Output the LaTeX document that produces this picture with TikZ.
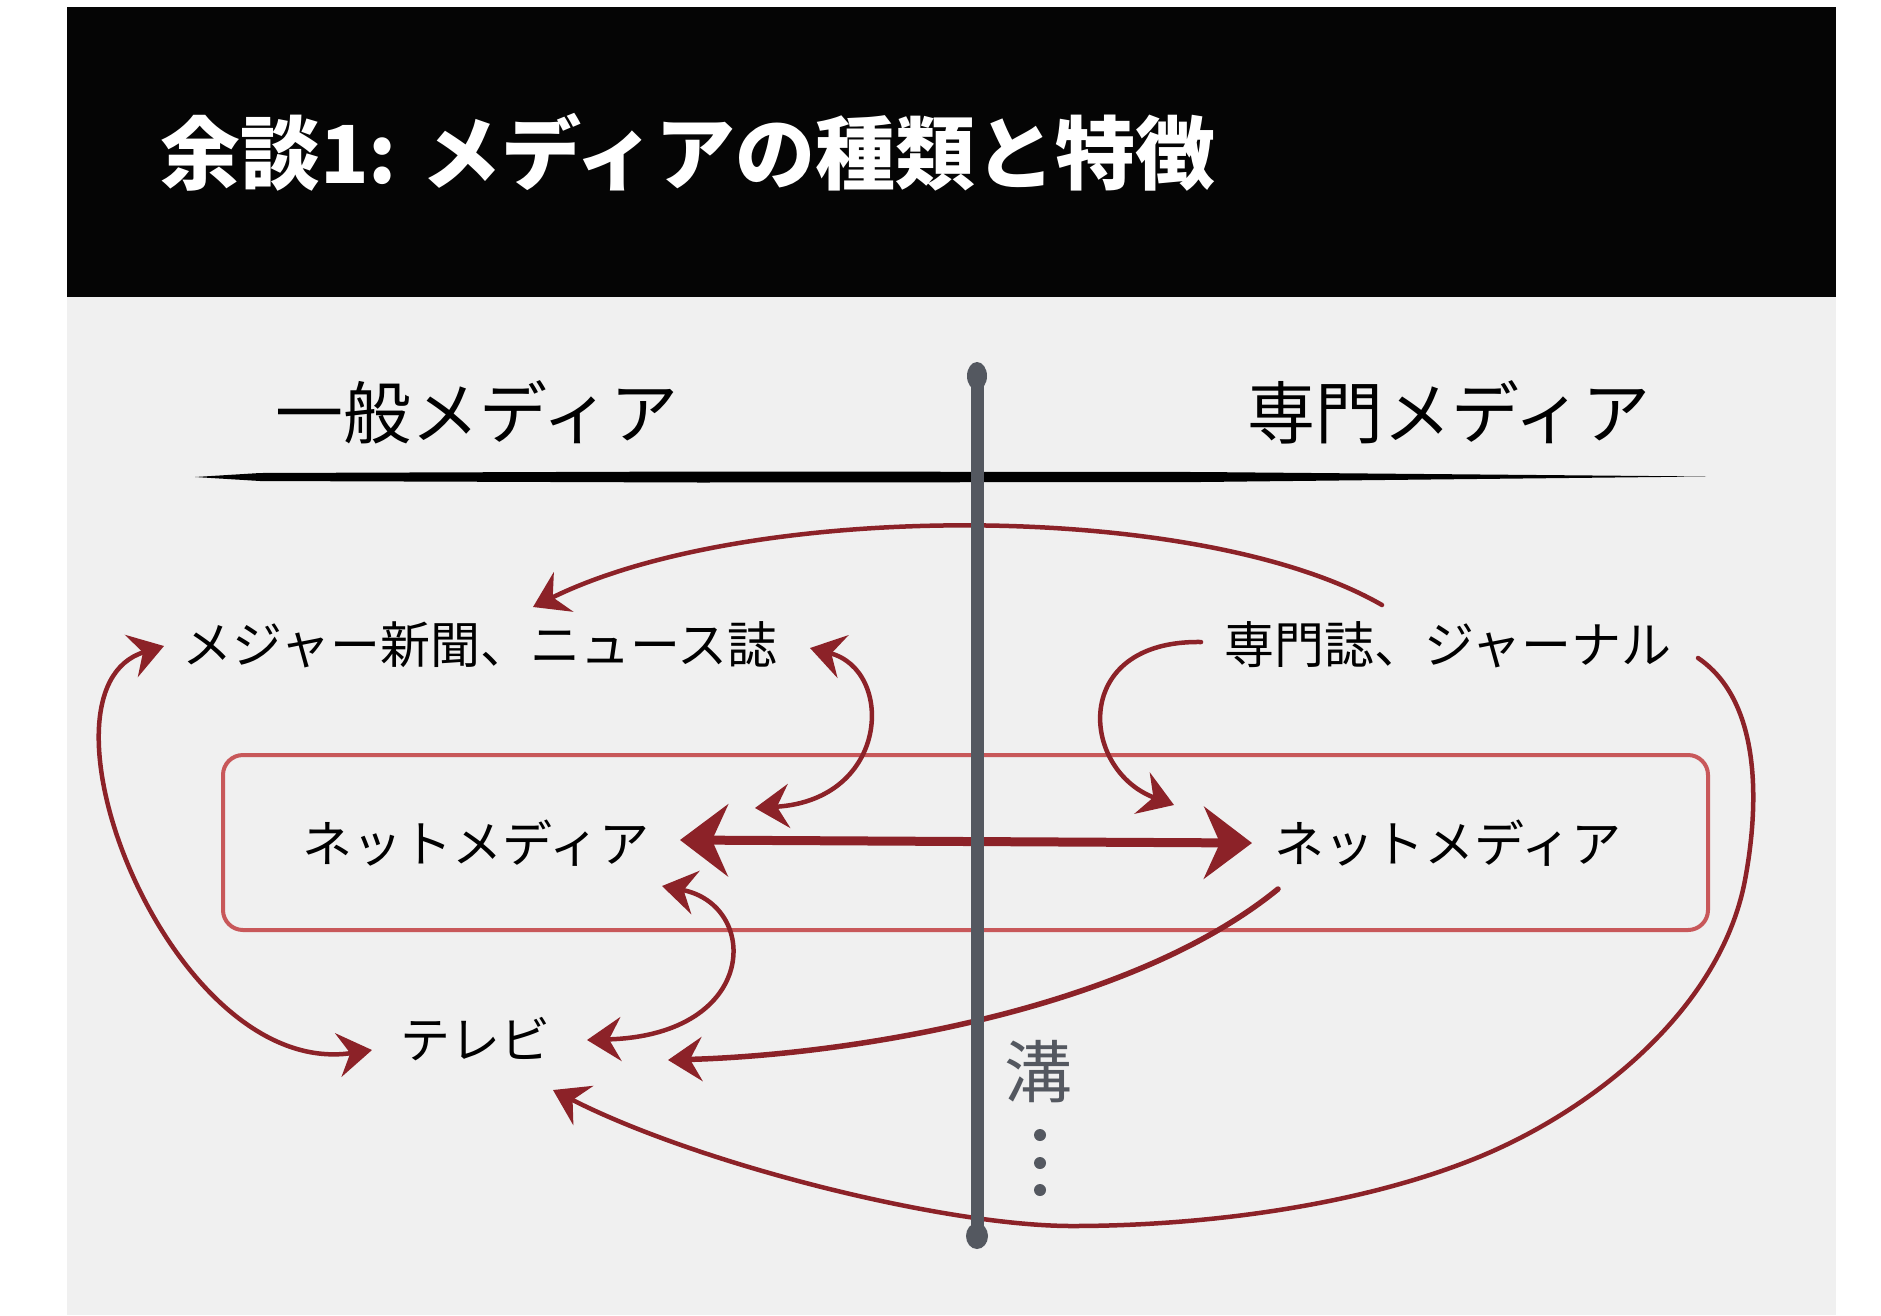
\documentclass[tikz,border=0pt]{standalone}
\usepackage{fontspec}
\setmainfont{Noto Sans CJK JP}
\usetikzlibrary{arrows.meta}
\definecolor{bg}{RGB}{240,240,240}
\definecolor{hdr}{RGB}{5,5,5}
\definecolor{arrowred}{RGB}{140,34,40}
\definecolor{boxred}{RGB}{200,88,90}
\definecolor{bargray}{RGB}{84,88,96}
\begin{document}
\begin{tikzpicture}[x=1pt,y=-1pt,
  lbl/.style={inner sep=0pt, font=\fontsize{50}{60}\selectfont, text=black},
  head/.style={inner sep=0pt, font=\fontsize{68}{80}\selectfont, text=black},
  conn/.style={draw=arrowred, line width=4.5pt, line cap=round,
    >={Stealth[length=34pt,width=44pt,inset=12pt]}},
  bigconn/.style={draw=arrowred, line width=9pt,
    {Stealth[length=48pt,width=72pt,inset=16pt]}-{Stealth[length=48pt,width=72pt,inset=16pt]}},
  dotnode/.style={circle, fill=bargray, inner sep=0pt, minimum size=12pt}
]
\useasboundingbox (0,0) rectangle (1881,1315);
% backgrounds
\fill[white] (0,0) rectangle (1881,1315);
\fill[bg] (67,297) rectangle (1836,1315);
\fill[hdr] (67,7) rectangle (1836,297);
\node[anchor=west, inner sep=0pt, text=white, font=\fontsize{80}{96}\selectfont\bfseries] (title) at (160,152) {余談1: メディアの種類と特徴};

% headings and brush line
\node[head] (gen) at (477,412) {一般メディア};
\node[head] (spec) at (1449,412) {専門メディア};
\fill[black] (195,477) -- (260,473) -- (700,471.5) -- (1200,472) -- (1706,476.5) -- (1200,482) -- (700,482.5) -- (260,481) -- cycle;

% net media box
\draw[boxred, line width=4pt, rounded corners=20pt] (223,755) rectangle (1708,930);

% labels
\node[lbl] (major) at (480,645) {メジャー新聞、ニュース誌};
\node[lbl] (journal) at (1448,645) {専門誌、ジャーナル};
\node[lbl] (netL) at (476,843) {ネットメディア};
\node[lbl] (netR) at (1448,843) {ネットメディア};
\node[lbl] (tv) at (475,1039) {テレビ};

% connectors
\draw[conn,->] ([shift={(-66,-40)}]journal.center) .. controls (1200,500) and (750,500) .. ([shift={(53,-38)}]major.center);
\draw[conn,<->] ([shift={(-316,1)}]major.center) .. controls (20,690) and (170,1080) .. ([shift={(-103,11)}]tv.center);
\draw[conn,<->] ([shift={(330,3)}]major.center) .. controls (895,670) and (890,800) .. ([shift={(279,-35)}]netL.center);
\draw[bigconn] ([shift={(204,-3)}]netL.center) -- ([shift={(-196,0)}]netR.center);
\draw[conn,<->] ([shift={(186,43)}]netL.center) .. controls (760,905) and (760,1035) .. ([shift={(112,1)}]tv.center);
\draw[conn,->,line width=5.5pt] ([shift={(-170,46)}]netR.center) .. controls (1130,1010) and (850,1055) .. ([shift={(193,21)}]tv.center);
\draw[conn,->] ([shift={(250,13)}]journal.center) .. controls (1760,700) and (1760,800) .. (1745,880)
   .. controls (1721,1008) and (1594,1111) .. (1474,1159)
   .. controls (1354,1207) and (1200,1226) .. (1072,1226)
   .. controls (944,1226) and (698,1164) .. ([shift={(78,51)}]tv.center);
\draw[conn,->] ([shift={(-247,-3)}]journal.center) .. controls (1070,640) and (1080,770) .. ([shift={(-274,-38)}]netR.center);

% divider bar
\draw[bargray, line width=13pt, line cap=round] (977,374) -- (977,1236);
\fill[bargray] (977,376) ellipse (10 and 14);
\fill[bargray] (977,1236) ellipse (11 and 13);

% gap label
\node[text=bargray, inner sep=0pt, font=\fontsize{68}{80}\selectfont] (mizo) at (1038,1072) {溝};
\node[dotnode] (d1) at (1040,1135) {};
\node[dotnode] (d2) at (1040,1163) {};
\node[dotnode] (d3) at (1040,1190) {};
\end{tikzpicture}
\end{document}
